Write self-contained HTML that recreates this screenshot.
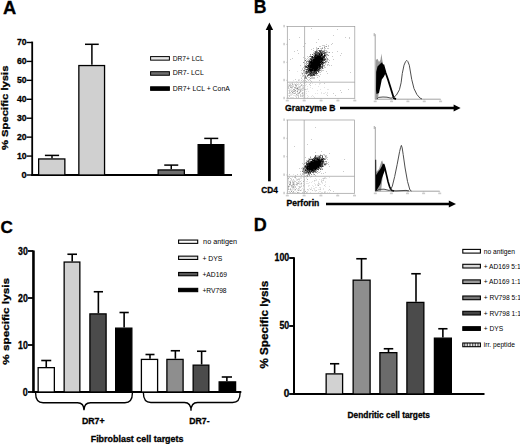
<!DOCTYPE html>
<html><head><meta charset="utf-8"><style>
html,body{margin:0;padding:0;background:#fff;}
svg{display:block;font-family:"Liberation Sans", sans-serif;}
</style></head><body>
<svg width="520" height="444" viewBox="0 0 520 444">
<rect width="520" height="444" fill="#fff"/>
<text x="3" y="13.8" font-size="18.3" font-weight="bold" text-anchor="start" fill="#000" stroke="#000" stroke-width="0.3">A</text>
<line x1="32.2" y1="41.6" x2="32.2" y2="175.9" stroke="#000" stroke-width="1.8"/>
<line x1="31.300000000000004" y1="175.0" x2="232" y2="175.0" stroke="#000" stroke-width="2.0"/>
<line x1="26.5" y1="175.0" x2="32.2" y2="175.0" stroke="#000" stroke-width="1.4"/>
<text x="26.5" y="178.0" font-size="9.2" font-weight="bold" text-anchor="end" fill="#000" stroke="#000" stroke-width="0.3">0</text>
<line x1="26.5" y1="156.07" x2="32.2" y2="156.07" stroke="#000" stroke-width="1.4"/>
<text x="26.5" y="159.07" font-size="9.2" font-weight="bold" text-anchor="end" fill="#000" textLength="9.6" lengthAdjust="spacingAndGlyphs" stroke="#000" stroke-width="0.3">10</text>
<line x1="26.5" y1="137.14" x2="32.2" y2="137.14" stroke="#000" stroke-width="1.4"/>
<text x="26.5" y="140.14" font-size="9.2" font-weight="bold" text-anchor="end" fill="#000" textLength="9.6" lengthAdjust="spacingAndGlyphs" stroke="#000" stroke-width="0.3">20</text>
<line x1="26.5" y1="118.21000000000001" x2="32.2" y2="118.21000000000001" stroke="#000" stroke-width="1.4"/>
<text x="26.5" y="121.21000000000001" font-size="9.2" font-weight="bold" text-anchor="end" fill="#000" textLength="9.6" lengthAdjust="spacingAndGlyphs" stroke="#000" stroke-width="0.3">30</text>
<line x1="26.5" y1="99.28" x2="32.2" y2="99.28" stroke="#000" stroke-width="1.4"/>
<text x="26.5" y="102.28" font-size="9.2" font-weight="bold" text-anchor="end" fill="#000" textLength="9.6" lengthAdjust="spacingAndGlyphs" stroke="#000" stroke-width="0.3">40</text>
<line x1="26.5" y1="80.35" x2="32.2" y2="80.35" stroke="#000" stroke-width="1.4"/>
<text x="26.5" y="83.35" font-size="9.2" font-weight="bold" text-anchor="end" fill="#000" textLength="9.6" lengthAdjust="spacingAndGlyphs" stroke="#000" stroke-width="0.3">50</text>
<line x1="26.5" y1="61.42" x2="32.2" y2="61.42" stroke="#000" stroke-width="1.4"/>
<text x="26.5" y="64.42" font-size="9.2" font-weight="bold" text-anchor="end" fill="#000" textLength="9.6" lengthAdjust="spacingAndGlyphs" stroke="#000" stroke-width="0.3">60</text>
<line x1="26.5" y1="42.49000000000001" x2="32.2" y2="42.49000000000001" stroke="#000" stroke-width="1.4"/>
<text x="26.5" y="45.49000000000001" font-size="9.2" font-weight="bold" text-anchor="end" fill="#000" textLength="9.6" lengthAdjust="spacingAndGlyphs" stroke="#000" stroke-width="0.3">70</text>
<text transform="translate(8.1,107.8) rotate(-90)" font-size="9.8" font-weight="bold" stroke="#000" stroke-width="0.3" text-anchor="middle" textLength="84.5" lengthAdjust="spacingAndGlyphs">% Specific lysis</text>
<rect x="38.65" y="158.95" width="26.20" height="16.05" fill="#d0d0d0" stroke="#000" stroke-width="1.3"/>
<line x1="52.0" y1="158.3" x2="52.0" y2="155.4" stroke="#000" stroke-width="1.5"/>
<line x1="44.9" y1="155.4" x2="59.1" y2="155.4" stroke="#000" stroke-width="1.5"/>
<rect x="78.85" y="65.55" width="25.70" height="109.45" fill="#d0d0d0" stroke="#000" stroke-width="1.3"/>
<line x1="91.9" y1="64.8" x2="91.9" y2="44.3" stroke="#000" stroke-width="1.5"/>
<line x1="85" y1="44.3" x2="98.75" y2="44.3" stroke="#000" stroke-width="1.5"/>
<rect x="158.15" y="169.95" width="26.20" height="5.05" fill="#6e6e6e" stroke="#000" stroke-width="1.3"/>
<line x1="171.25" y1="169.3" x2="171.25" y2="165.1" stroke="#000" stroke-width="1.5"/>
<line x1="164.25" y1="165.1" x2="178.25" y2="165.1" stroke="#000" stroke-width="1.5"/>
<rect x="198.15" y="144.65" width="25.70" height="30.35" fill="#000000" stroke="#000" stroke-width="1.3"/>
<line x1="211" y1="144" x2="211" y2="138.4" stroke="#000" stroke-width="1.5"/>
<line x1="204.25" y1="138.4" x2="218.25" y2="138.4" stroke="#000" stroke-width="1.5"/>
<rect x="150.6" y="56.6" width="18.8" height="3.55" fill="#e6e6e6" stroke="#000" stroke-width="1.0"/>
<text x="172.8" y="60.7" font-size="6.6" font-weight="normal" text-anchor="start" fill="#000" textLength="31" lengthAdjust="spacingAndGlyphs">DR7+ LCL</text>
<rect x="150.6" y="71.7" width="18.8" height="3.55" fill="#6e6e6e" stroke="#000" stroke-width="1.0"/>
<text x="172.8" y="75.39999999999999" font-size="6.6" font-weight="normal" text-anchor="start" fill="#000" textLength="31" lengthAdjust="spacingAndGlyphs">DR7- LCL</text>
<rect x="150.6" y="86.8" width="18.8" height="3.55" fill="#000000" stroke="#000" stroke-width="1.0"/>
<text x="172.8" y="90.69999999999999" font-size="6.6" font-weight="normal" text-anchor="start" fill="#000" textLength="57" lengthAdjust="spacingAndGlyphs">DR7+ LCL + ConA</text>
<text x="253.7" y="13.1" font-size="17.6" font-weight="bold" text-anchor="start" fill="#000" stroke="#000" stroke-width="0.3">B</text>
<line x1="269.4" y1="29" x2="269.4" y2="181.3" stroke="#000" stroke-width="2.7"/>
<polygon points="269.4,22.6 265.7,30.0 273.1,30.0" fill="#000"/>
<text x="261.2" y="193.4" font-size="8.4" font-weight="bold" text-anchor="start" fill="#000" textLength="16.6" lengthAdjust="spacingAndGlyphs" stroke="#000" stroke-width="0.3">CD4</text>
<text x="285.1" y="111.1" font-size="8.6" font-weight="bold" text-anchor="start" fill="#000" textLength="50.3" lengthAdjust="spacingAndGlyphs" stroke="#000" stroke-width="0.3">Granzyme B</text>
<line x1="340" y1="108.1" x2="455" y2="108.1" stroke="#000" stroke-width="2.5"/>
<polygon points="460.6,108.1 453.6,104.6 453.6,111.6" fill="#000"/>
<text x="286.5" y="205.8" font-size="8.6" font-weight="bold" text-anchor="start" fill="#000" textLength="32.8" lengthAdjust="spacingAndGlyphs" stroke="#000" stroke-width="0.3">Perforin</text>
<line x1="326" y1="204.1" x2="450" y2="204.1" stroke="#000" stroke-width="2.5"/>
<polygon points="456.0,204.1 448.8,200.6 448.8,207.6" fill="#000"/>
<path fill="rgb(229,229,229)" d="M297 71h1v1h-1zM301 72h1v1h-1zM301 73h1v1h-1zM303 73h1v1h-1zM304 73h1v1h-1zM307 74h1v1h-1zM300 75h1v1h-1zM302 75h1v1h-1zM303 76h1v1h-1zM306 76h1v1h-1zM301 77h1v1h-1zM298 79h1v1h-1zM299 79h1v1h-1zM302 79h1v1h-1zM293 80h1v1h-1zM299 80h1v1h-1zM296 81h1v1h-1zM302 81h1v1h-1zM303 81h1v1h-1zM292 82h1v1h-1zM297 82h1v1h-1zM301 82h1v1h-1zM305 82h1v1h-1zM289 83h1v1h-1zM290 83h1v1h-1zM291 83h1v1h-1zM294 83h1v1h-1zM296 83h1v1h-1zM298 83h1v1h-1zM303 83h1v1h-1zM304 83h1v1h-1zM312 83h1v1h-1zM319 83h1v1h-1zM320 83h1v1h-1zM288 84h1v1h-1zM289 84h1v1h-1zM293 84h1v1h-1zM294 84h1v1h-1zM296 84h1v1h-1zM298 84h1v1h-1zM299 84h1v1h-1zM302 84h1v1h-1zM306 84h1v1h-1zM315 84h1v1h-1zM319 84h1v1h-1zM288 85h1v1h-1zM292 85h1v1h-1zM293 85h1v1h-1zM298 85h1v1h-1zM300 85h1v1h-1zM302 85h1v1h-1zM305 85h1v1h-1zM289 86h1v1h-1zM291 86h1v1h-1zM295 86h1v1h-1zM298 86h1v1h-1zM302 86h1v1h-1zM303 86h1v1h-1zM307 86h1v1h-1zM318 86h1v1h-1zM296 87h1v1h-1zM300 87h1v1h-1zM302 87h1v1h-1zM310 87h1v1h-1zM324 87h1v1h-1zM289 88h1v1h-1zM291 88h1v1h-1zM292 88h1v1h-1zM294 88h1v1h-1zM298 88h1v1h-1zM299 88h1v1h-1zM300 88h1v1h-1zM301 88h1v1h-1zM307 88h1v1h-1zM312 88h1v1h-1zM289 89h1v1h-1zM290 89h1v1h-1zM291 89h1v1h-1zM296 89h1v1h-1zM302 89h1v1h-1zM303 89h1v1h-1zM306 89h1v1h-1zM307 89h1v1h-1zM320 89h1v1h-1zM327 89h1v1h-1zM328 89h1v1h-1zM288 90h1v1h-1zM290 90h1v1h-1zM291 90h1v1h-1zM293 90h1v1h-1zM298 90h1v1h-1zM299 90h1v1h-1zM301 90h1v1h-1zM303 90h1v1h-1zM317 90h1v1h-1zM292 91h1v1h-1zM295 91h1v1h-1zM296 91h1v1h-1zM299 91h1v1h-1zM301 91h1v1h-1zM304 91h1v1h-1zM306 91h1v1h-1zM308 91h1v1h-1zM293 92h1v1h-1zM297 92h1v1h-1zM298 92h1v1h-1zM300 92h1v1h-1zM303 92h1v1h-1zM304 92h1v1h-1zM321 92h1v1h-1zM325 92h1v1h-1zM327 92h1v1h-1zM288 93h1v1h-1zM290 93h1v1h-1zM291 93h1v1h-1zM292 93h1v1h-1zM301 93h1v1h-1zM303 93h1v1h-1zM304 93h1v1h-1zM306 93h1v1h-1zM315 93h1v1h-1zM317 93h1v1h-1zM321 93h1v1h-1zM323 93h1v1h-1zM324 93h1v1h-1zM327 93h1v1h-1zM290 94h1v1h-1zM291 94h1v1h-1zM292 94h1v1h-1zM297 94h1v1h-1zM298 94h1v1h-1zM302 94h1v1h-1zM303 94h1v1h-1zM304 94h1v1h-1zM326 94h1v1h-1zM288 95h1v1h-1zM290 95h1v1h-1zM291 95h1v1h-1zM293 95h1v1h-1zM294 95h1v1h-1zM295 95h1v1h-1zM296 95h1v1h-1zM301 95h1v1h-1zM307 95h1v1h-1zM312 95h1v1h-1zM295 96h1v1h-1zM296 96h1v1h-1zM301 96h1v1h-1zM303 96h1v1h-1zM308 96h1v1h-1zM311 96h1v1h-1zM313 96h1v1h-1zM288 97h1v1h-1zM290 97h1v1h-1zM291 97h1v1h-1zM292 97h1v1h-1zM293 97h1v1h-1zM303 97h1v1h-1zM307 97h1v1h-1zM314 97h1v1h-1z"/>
<path fill="rgb(204,204,204)" d="M311 28h1v1h-1zM337 29h1v1h-1zM333 35h1v1h-1zM299 37h1v1h-1zM345 37h1v1h-1zM349 37h1v1h-1zM349 38h1v1h-1zM289 39h1v1h-1zM318 39h1v1h-1zM316 42h1v1h-1zM305 43h1v1h-1zM332 43h1v1h-1zM326 44h1v1h-1zM331 44h1v1h-1zM322 45h1v1h-1zM323 45h1v1h-1zM324 45h1v1h-1zM328 45h1v1h-1zM303 46h1v1h-1zM319 46h1v1h-1zM320 46h1v1h-1zM324 46h1v1h-1zM325 46h1v1h-1zM328 46h1v1h-1zM316 47h1v1h-1zM322 47h1v1h-1zM313 48h1v1h-1zM316 48h1v1h-1zM317 48h1v1h-1zM320 48h1v1h-1zM321 48h1v1h-1zM324 48h1v1h-1zM325 48h1v1h-1zM327 48h1v1h-1zM328 48h1v1h-1zM311 49h1v1h-1zM316 49h1v1h-1zM317 49h1v1h-1zM321 49h1v1h-1zM324 49h1v1h-1zM297 50h1v1h-1zM313 50h1v1h-1zM317 50h1v1h-1zM322 50h1v1h-1zM323 50h1v1h-1zM325 50h1v1h-1zM326 50h1v1h-1zM294 51h1v1h-1zM314 51h1v1h-1zM326 51h1v1h-1zM327 51h1v1h-1zM337 51h1v1h-1zM313 52h1v1h-1zM314 52h1v1h-1zM327 52h1v1h-1zM328 52h1v1h-1zM332 52h1v1h-1zM298 53h1v1h-1zM313 53h1v1h-1zM326 53h1v1h-1zM341 53h1v1h-1zM313 54h1v1h-1zM310 55h1v1h-1zM326 55h1v1h-1zM327 55h1v1h-1zM340 55h1v1h-1zM307 56h1v1h-1zM313 56h1v1h-1zM326 56h1v1h-1zM332 56h1v1h-1zM303 57h1v1h-1zM308 57h1v1h-1zM292 58h1v1h-1zM305 58h1v1h-1zM307 58h1v1h-1zM309 58h1v1h-1zM326 58h1v1h-1zM290 59h1v1h-1zM306 59h1v1h-1zM308 59h1v1h-1zM309 59h1v1h-1zM326 59h1v1h-1zM328 59h1v1h-1zM333 59h1v1h-1zM307 60h1v1h-1zM308 60h1v1h-1zM325 60h1v1h-1zM326 60h1v1h-1zM327 60h1v1h-1zM329 60h1v1h-1zM327 61h1v1h-1zM326 62h1v1h-1zM305 63h1v1h-1zM306 63h1v1h-1zM324 63h1v1h-1zM325 63h1v1h-1zM323 64h1v1h-1zM325 64h1v1h-1zM327 64h1v1h-1zM328 64h1v1h-1zM300 65h1v1h-1zM306 65h1v1h-1zM321 65h1v1h-1zM327 65h1v1h-1zM329 65h1v1h-1zM331 65h1v1h-1zM323 66h1v1h-1zM324 66h1v1h-1zM303 67h1v1h-1zM324 67h1v1h-1zM325 67h1v1h-1zM302 68h1v1h-1zM305 68h1v1h-1zM321 68h1v1h-1zM323 68h1v1h-1zM302 69h1v1h-1zM320 69h1v1h-1zM321 69h1v1h-1zM289 70h1v1h-1zM301 70h1v1h-1zM321 70h1v1h-1zM322 70h1v1h-1zM323 70h1v1h-1zM303 71h1v1h-1zM319 71h1v1h-1zM321 71h1v1h-1zM326 71h1v1h-1zM303 72h1v1h-1zM319 72h1v1h-1zM320 72h1v1h-1zM350 72h1v1h-1zM308 73h1v1h-1zM327 73h1v1h-1zM302 74h1v1h-1zM306 74h1v1h-1zM315 74h1v1h-1zM320 74h1v1h-1zM315 75h1v1h-1zM316 75h1v1h-1zM317 75h1v1h-1zM318 75h1v1h-1zM302 76h1v1h-1zM311 76h1v1h-1zM312 76h1v1h-1zM319 76h1v1h-1zM304 77h1v1h-1zM308 77h1v1h-1zM309 77h1v1h-1zM311 77h1v1h-1zM312 77h1v1h-1zM313 77h1v1h-1zM314 77h1v1h-1zM317 77h1v1h-1zM301 78h1v1h-1zM311 78h1v1h-1zM312 78h1v1h-1zM313 78h1v1h-1zM314 78h1v1h-1zM295 79h1v1h-1zM307 79h1v1h-1zM309 79h1v1h-1zM298 80h1v1h-1zM301 80h1v1h-1zM303 80h1v1h-1zM305 80h1v1h-1zM308 80h1v1h-1zM310 80h1v1h-1zM319 80h1v1h-1zM306 81h1v1h-1zM311 81h1v1h-1zM292 83h1v1h-1zM300 83h1v1h-1zM310 83h1v1h-1zM324 83h1v1h-1zM290 84h1v1h-1zM297 84h1v1h-1zM301 84h1v1h-1zM309 84h1v1h-1zM290 85h1v1h-1zM291 85h1v1h-1zM303 85h1v1h-1zM310 85h1v1h-1zM288 86h1v1h-1zM290 86h1v1h-1zM292 86h1v1h-1zM293 86h1v1h-1zM296 86h1v1h-1zM299 86h1v1h-1zM300 86h1v1h-1zM288 87h1v1h-1zM292 87h1v1h-1zM297 87h1v1h-1zM298 87h1v1h-1zM299 87h1v1h-1zM303 87h1v1h-1zM288 88h1v1h-1zM295 88h1v1h-1zM302 88h1v1h-1zM303 88h1v1h-1zM297 89h1v1h-1zM299 89h1v1h-1zM300 89h1v1h-1zM301 89h1v1h-1zM304 89h1v1h-1zM305 89h1v1h-1zM348 89h1v1h-1zM289 90h1v1h-1zM292 90h1v1h-1zM294 90h1v1h-1zM297 90h1v1h-1zM302 90h1v1h-1zM340 90h1v1h-1zM289 91h1v1h-1zM289 92h1v1h-1zM290 92h1v1h-1zM295 92h1v1h-1zM302 92h1v1h-1zM341 92h1v1h-1zM289 93h1v1h-1zM293 93h1v1h-1zM295 93h1v1h-1zM297 93h1v1h-1zM299 93h1v1h-1zM333 93h1v1h-1zM300 94h1v1h-1zM289 95h1v1h-1zM297 95h1v1h-1zM298 95h1v1h-1zM300 95h1v1h-1zM302 95h1v1h-1zM303 95h1v1h-1zM327 95h1v1h-1zM335 95h1v1h-1zM289 96h1v1h-1zM298 96h1v1h-1zM300 96h1v1h-1zM302 96h1v1h-1zM296 97h1v1h-1zM298 97h1v1h-1z"/>
<path fill="rgb(178,178,178)" d="M303 75h1v1h-1zM305 75h1v1h-1zM306 77h1v1h-1zM305 78h1v1h-1zM292 84h1v1h-1zM295 84h1v1h-1zM289 85h1v1h-1zM295 85h1v1h-1zM296 85h1v1h-1zM301 85h1v1h-1zM290 87h1v1h-1zM291 87h1v1h-1zM294 87h1v1h-1zM295 87h1v1h-1zM296 88h1v1h-1zM293 89h1v1h-1zM294 89h1v1h-1zM298 89h1v1h-1zM300 90h1v1h-1zM291 91h1v1h-1zM293 91h1v1h-1zM294 91h1v1h-1zM300 91h1v1h-1zM294 93h1v1h-1zM298 93h1v1h-1zM302 93h1v1h-1zM296 94h1v1h-1z"/>
<path fill="rgb(153,153,153)" d="M326 46h1v1h-1zM324 47h1v1h-1zM322 48h1v1h-1zM316 50h1v1h-1zM318 50h1v1h-1zM324 50h1v1h-1zM317 51h1v1h-1zM321 51h1v1h-1zM324 51h1v1h-1zM319 52h1v1h-1zM323 52h1v1h-1zM326 52h1v1h-1zM329 52h1v1h-1zM325 53h1v1h-1zM310 54h1v1h-1zM314 54h1v1h-1zM325 54h1v1h-1zM326 54h1v1h-1zM327 54h1v1h-1zM313 55h1v1h-1zM323 55h1v1h-1zM328 55h1v1h-1zM309 56h1v1h-1zM325 56h1v1h-1zM326 57h1v1h-1zM325 58h1v1h-1zM327 58h1v1h-1zM327 59h1v1h-1zM310 60h1v1h-1zM306 61h1v1h-1zM307 61h1v1h-1zM323 61h1v1h-1zM326 61h1v1h-1zM303 62h1v1h-1zM306 62h1v1h-1zM308 62h1v1h-1zM325 62h1v1h-1zM328 62h1v1h-1zM307 63h1v1h-1zM308 63h1v1h-1zM306 64h1v1h-1zM305 65h1v1h-1zM323 65h1v1h-1zM324 65h1v1h-1zM304 66h1v1h-1zM307 66h1v1h-1zM304 68h1v1h-1zM305 69h1v1h-1zM303 70h1v1h-1zM306 70h1v1h-1zM307 70h1v1h-1zM320 70h1v1h-1zM305 71h1v1h-1zM317 71h1v1h-1zM305 72h1v1h-1zM318 72h1v1h-1zM302 73h1v1h-1zM305 73h1v1h-1zM307 73h1v1h-1zM316 74h1v1h-1zM309 75h1v1h-1zM307 76h1v1h-1zM310 76h1v1h-1zM304 78h1v1h-1zM306 78h1v1h-1zM310 78h1v1h-1zM295 90h1v1h-1zM297 91h1v1h-1zM292 92h1v1h-1zM299 92h1v1h-1z"/>
<path fill="rgb(127,127,127)" d="M307 68h1v1h-1zM305 76h1v1h-1zM305 77h1v1h-1zM297 88h1v1h-1z"/>
<path fill="rgb(102,102,102)" d="M318 48h1v1h-1zM320 50h1v1h-1zM321 50h1v1h-1zM315 51h1v1h-1zM316 51h1v1h-1zM322 51h1v1h-1zM323 51h1v1h-1zM317 52h1v1h-1zM322 52h1v1h-1zM324 52h1v1h-1zM325 52h1v1h-1zM314 53h1v1h-1zM316 53h1v1h-1zM322 53h1v1h-1zM312 54h1v1h-1zM314 55h1v1h-1zM310 56h1v1h-1zM311 56h1v1h-1zM311 57h1v1h-1zM310 58h1v1h-1zM311 58h1v1h-1zM324 58h1v1h-1zM305 60h1v1h-1zM309 60h1v1h-1zM308 61h1v1h-1zM325 61h1v1h-1zM308 64h1v1h-1zM321 64h1v1h-1zM322 65h1v1h-1zM321 66h1v1h-1zM305 67h1v1h-1zM321 67h1v1h-1zM322 68h1v1h-1zM304 70h1v1h-1zM319 70h1v1h-1zM307 71h1v1h-1zM312 71h1v1h-1zM306 72h1v1h-1zM308 72h1v1h-1zM309 73h1v1h-1zM317 73h1v1h-1zM312 74h1v1h-1zM307 75h1v1h-1zM308 75h1v1h-1zM313 75h1v1h-1z"/>
<path fill="rgb(76,76,76)" d="M319 50h1v1h-1zM319 51h1v1h-1zM315 52h1v1h-1zM316 52h1v1h-1zM318 52h1v1h-1zM321 52h1v1h-1zM315 53h1v1h-1zM317 53h1v1h-1zM318 53h1v1h-1zM320 53h1v1h-1zM323 53h1v1h-1zM324 53h1v1h-1zM317 54h1v1h-1zM318 54h1v1h-1zM320 54h1v1h-1zM324 54h1v1h-1zM322 55h1v1h-1zM325 55h1v1h-1zM321 56h1v1h-1zM312 58h1v1h-1zM313 58h1v1h-1zM323 58h1v1h-1zM310 59h1v1h-1zM312 59h1v1h-1zM325 59h1v1h-1zM323 60h1v1h-1zM324 60h1v1h-1zM322 61h1v1h-1zM323 62h1v1h-1zM324 62h1v1h-1zM320 63h1v1h-1zM322 63h1v1h-1zM323 63h1v1h-1zM307 65h1v1h-1zM305 66h1v1h-1zM322 66h1v1h-1zM306 67h1v1h-1zM308 67h1v1h-1zM320 67h1v1h-1zM322 67h1v1h-1zM318 68h1v1h-1zM320 68h1v1h-1zM306 69h1v1h-1zM308 69h1v1h-1zM319 69h1v1h-1zM318 70h1v1h-1zM309 71h1v1h-1zM313 71h1v1h-1zM316 71h1v1h-1zM307 72h1v1h-1zM309 72h1v1h-1zM310 72h1v1h-1zM312 72h1v1h-1zM315 72h1v1h-1zM306 73h1v1h-1zM311 73h1v1h-1zM312 73h1v1h-1zM313 73h1v1h-1zM314 73h1v1h-1zM316 73h1v1h-1zM308 74h1v1h-1zM309 74h1v1h-1zM310 74h1v1h-1zM311 74h1v1h-1zM314 74h1v1h-1zM310 75h1v1h-1zM312 75h1v1h-1zM314 75h1v1h-1z"/>
<path fill="rgb(50,50,50)" d="M320 51h1v1h-1zM320 52h1v1h-1zM316 54h1v1h-1zM322 56h1v1h-1zM324 56h1v1h-1zM313 57h1v1h-1zM324 57h1v1h-1zM323 59h1v1h-1zM324 59h1v1h-1zM309 61h1v1h-1zM309 62h1v1h-1zM321 62h1v1h-1zM322 64h1v1h-1zM306 66h1v1h-1zM307 67h1v1h-1zM308 68h1v1h-1zM307 69h1v1h-1zM317 69h1v1h-1zM306 71h1v1h-1zM308 71h1v1h-1zM315 71h1v1h-1zM318 71h1v1h-1zM313 72h1v1h-1zM314 72h1v1h-1zM315 73h1v1h-1zM311 75h1v1h-1z"/>
<path fill="rgb(25,25,25)" d="M319 53h1v1h-1zM321 53h1v1h-1zM315 54h1v1h-1zM322 54h1v1h-1zM316 55h1v1h-1zM317 55h1v1h-1zM318 55h1v1h-1zM319 55h1v1h-1zM320 55h1v1h-1zM312 56h1v1h-1zM314 56h1v1h-1zM315 56h1v1h-1zM316 56h1v1h-1zM323 56h1v1h-1zM312 57h1v1h-1zM314 57h1v1h-1zM321 57h1v1h-1zM322 57h1v1h-1zM323 57h1v1h-1zM314 58h1v1h-1zM311 59h1v1h-1zM311 60h1v1h-1zM312 60h1v1h-1zM320 60h1v1h-1zM321 60h1v1h-1zM322 60h1v1h-1zM310 61h1v1h-1zM312 61h1v1h-1zM320 61h1v1h-1zM309 63h1v1h-1zM310 63h1v1h-1zM321 63h1v1h-1zM309 64h1v1h-1zM310 64h1v1h-1zM308 65h1v1h-1zM309 65h1v1h-1zM320 65h1v1h-1zM309 66h1v1h-1zM318 66h1v1h-1zM320 66h1v1h-1zM309 67h1v1h-1zM318 67h1v1h-1zM319 67h1v1h-1zM309 68h1v1h-1zM310 68h1v1h-1zM311 68h1v1h-1zM319 68h1v1h-1zM313 69h1v1h-1zM318 69h1v1h-1zM308 70h1v1h-1zM309 70h1v1h-1zM313 70h1v1h-1zM316 70h1v1h-1zM317 70h1v1h-1zM310 71h1v1h-1zM311 71h1v1h-1zM314 71h1v1h-1zM311 72h1v1h-1zM316 72h1v1h-1zM310 73h1v1h-1zM313 74h1v1h-1z"/>
<path fill="rgb(0,0,0)" d="M319 54h1v1h-1zM321 54h1v1h-1zM315 55h1v1h-1zM321 55h1v1h-1zM324 55h1v1h-1zM317 56h1v1h-1zM318 56h1v1h-1zM319 56h1v1h-1zM320 56h1v1h-1zM315 57h1v1h-1zM316 57h1v1h-1zM317 57h1v1h-1zM318 57h1v1h-1zM319 57h1v1h-1zM320 57h1v1h-1zM315 58h1v1h-1zM316 58h1v1h-1zM317 58h1v1h-1zM318 58h1v1h-1zM319 58h1v1h-1zM320 58h1v1h-1zM321 58h1v1h-1zM322 58h1v1h-1zM313 59h1v1h-1zM314 59h1v1h-1zM315 59h1v1h-1zM316 59h1v1h-1zM317 59h1v1h-1zM318 59h1v1h-1zM319 59h1v1h-1zM320 59h1v1h-1zM321 59h1v1h-1zM322 59h1v1h-1zM313 60h1v1h-1zM314 60h1v1h-1zM315 60h1v1h-1zM316 60h1v1h-1zM317 60h1v1h-1zM318 60h1v1h-1zM319 60h1v1h-1zM311 61h1v1h-1zM313 61h1v1h-1zM314 61h1v1h-1zM315 61h1v1h-1zM316 61h1v1h-1zM317 61h1v1h-1zM318 61h1v1h-1zM319 61h1v1h-1zM321 61h1v1h-1zM310 62h1v1h-1zM311 62h1v1h-1zM312 62h1v1h-1zM313 62h1v1h-1zM314 62h1v1h-1zM315 62h1v1h-1zM316 62h1v1h-1zM317 62h1v1h-1zM318 62h1v1h-1zM319 62h1v1h-1zM320 62h1v1h-1zM322 62h1v1h-1zM311 63h1v1h-1zM312 63h1v1h-1zM313 63h1v1h-1zM314 63h1v1h-1zM315 63h1v1h-1zM316 63h1v1h-1zM317 63h1v1h-1zM318 63h1v1h-1zM319 63h1v1h-1zM311 64h1v1h-1zM312 64h1v1h-1zM313 64h1v1h-1zM314 64h1v1h-1zM315 64h1v1h-1zM316 64h1v1h-1zM317 64h1v1h-1zM318 64h1v1h-1zM319 64h1v1h-1zM320 64h1v1h-1zM310 65h1v1h-1zM311 65h1v1h-1zM312 65h1v1h-1zM313 65h1v1h-1zM314 65h1v1h-1zM315 65h1v1h-1zM316 65h1v1h-1zM317 65h1v1h-1zM318 65h1v1h-1zM319 65h1v1h-1zM308 66h1v1h-1zM310 66h1v1h-1zM311 66h1v1h-1zM312 66h1v1h-1zM313 66h1v1h-1zM314 66h1v1h-1zM315 66h1v1h-1zM316 66h1v1h-1zM317 66h1v1h-1zM319 66h1v1h-1zM310 67h1v1h-1zM311 67h1v1h-1zM312 67h1v1h-1zM313 67h1v1h-1zM314 67h1v1h-1zM315 67h1v1h-1zM316 67h1v1h-1zM317 67h1v1h-1zM312 68h1v1h-1zM313 68h1v1h-1zM314 68h1v1h-1zM315 68h1v1h-1zM316 68h1v1h-1zM317 68h1v1h-1zM309 69h1v1h-1zM310 69h1v1h-1zM311 69h1v1h-1zM312 69h1v1h-1zM314 69h1v1h-1zM315 69h1v1h-1zM316 69h1v1h-1zM310 70h1v1h-1zM311 70h1v1h-1zM312 70h1v1h-1zM314 70h1v1h-1zM315 70h1v1h-1z"/>
<rect x="287.3" y="26.4" width="67.5" height="71.9" fill="none" stroke="#9a9a9a" stroke-width="0.7"/>
<line x1="304.6" y1="26.4" x2="304.6" y2="98.3" stroke="#9a9a9a" stroke-width="0.7"/>
<line x1="287.3" y1="82.2" x2="354.8" y2="82.2" stroke="#9a9a9a" stroke-width="0.7"/>
<line x1="286.1" y1="98.3" x2="287.3" y2="98.3" stroke="#aaa" stroke-width="0.5"/>
<rect x="283.3" y="96.8" width="1.6" height="2.4" fill="#ccc"/>
<line x1="287.3" y1="98.3" x2="287.3" y2="99.5" stroke="#aaa" stroke-width="0.5"/>
<rect x="285.8" y="99.8" width="3" height="1.6" fill="#ccc"/>
<line x1="286.1" y1="80.32499999999999" x2="287.3" y2="80.32499999999999" stroke="#aaa" stroke-width="0.5"/>
<rect x="283.3" y="78.82499999999999" width="1.6" height="2.4" fill="#ccc"/>
<line x1="304.175" y1="98.3" x2="304.175" y2="99.5" stroke="#aaa" stroke-width="0.5"/>
<rect x="302.675" y="99.8" width="3" height="1.6" fill="#ccc"/>
<line x1="286.1" y1="62.349999999999994" x2="287.3" y2="62.349999999999994" stroke="#aaa" stroke-width="0.5"/>
<rect x="283.3" y="60.849999999999994" width="1.6" height="2.4" fill="#ccc"/>
<line x1="321.05" y1="98.3" x2="321.05" y2="99.5" stroke="#aaa" stroke-width="0.5"/>
<rect x="319.55" y="99.8" width="3" height="1.6" fill="#ccc"/>
<line x1="286.1" y1="44.37499999999999" x2="287.3" y2="44.37499999999999" stroke="#aaa" stroke-width="0.5"/>
<rect x="283.3" y="42.87499999999999" width="1.6" height="2.4" fill="#ccc"/>
<line x1="337.925" y1="98.3" x2="337.925" y2="99.5" stroke="#aaa" stroke-width="0.5"/>
<rect x="336.425" y="99.8" width="3" height="1.6" fill="#ccc"/>
<line x1="286.1" y1="26.39999999999999" x2="287.3" y2="26.39999999999999" stroke="#aaa" stroke-width="0.5"/>
<rect x="283.3" y="24.89999999999999" width="1.6" height="2.4" fill="#ccc"/>
<line x1="354.8" y1="98.3" x2="354.8" y2="99.5" stroke="#aaa" stroke-width="0.5"/>
<rect x="353.3" y="99.8" width="3" height="1.6" fill="#ccc"/>
<path fill="rgb(229,229,229)" d="M300 173h1v1h-1zM293 174h1v1h-1zM295 176h1v1h-1zM288 177h1v1h-1zM292 177h1v1h-1zM300 177h1v1h-1zM301 177h1v1h-1zM303 177h1v1h-1zM306 177h1v1h-1zM310 177h1v1h-1zM324 177h1v1h-1zM325 177h1v1h-1zM329 177h1v1h-1zM291 178h1v1h-1zM295 178h1v1h-1zM296 178h1v1h-1zM298 178h1v1h-1zM299 178h1v1h-1zM300 178h1v1h-1zM301 178h1v1h-1zM306 178h1v1h-1zM315 178h1v1h-1zM322 178h1v1h-1zM325 178h1v1h-1zM326 178h1v1h-1zM288 179h1v1h-1zM296 179h1v1h-1zM304 179h1v1h-1zM316 179h1v1h-1zM319 179h1v1h-1zM321 179h1v1h-1zM323 179h1v1h-1zM288 180h1v1h-1zM290 180h1v1h-1zM291 180h1v1h-1zM292 180h1v1h-1zM293 180h1v1h-1zM294 180h1v1h-1zM296 180h1v1h-1zM297 180h1v1h-1zM299 180h1v1h-1zM301 180h1v1h-1zM304 180h1v1h-1zM315 180h1v1h-1zM316 180h1v1h-1zM321 180h1v1h-1zM322 180h1v1h-1zM288 181h1v1h-1zM293 181h1v1h-1zM299 181h1v1h-1zM306 181h1v1h-1zM307 181h1v1h-1zM312 181h1v1h-1zM314 181h1v1h-1zM318 181h1v1h-1zM325 181h1v1h-1zM288 182h1v1h-1zM289 182h1v1h-1zM294 182h1v1h-1zM297 182h1v1h-1zM298 182h1v1h-1zM299 182h1v1h-1zM301 182h1v1h-1zM309 182h1v1h-1zM311 182h1v1h-1zM318 182h1v1h-1zM321 182h1v1h-1zM322 182h1v1h-1zM325 182h1v1h-1zM288 183h1v1h-1zM289 183h1v1h-1zM292 183h1v1h-1zM294 183h1v1h-1zM296 183h1v1h-1zM299 183h1v1h-1zM300 183h1v1h-1zM303 183h1v1h-1zM306 183h1v1h-1zM307 183h1v1h-1zM308 183h1v1h-1zM314 183h1v1h-1zM319 183h1v1h-1zM322 183h1v1h-1zM295 184h1v1h-1zM299 184h1v1h-1zM300 184h1v1h-1zM301 184h1v1h-1zM304 184h1v1h-1zM315 184h1v1h-1zM317 184h1v1h-1zM318 184h1v1h-1zM319 184h1v1h-1zM320 184h1v1h-1zM325 184h1v1h-1zM288 185h1v1h-1zM289 185h1v1h-1zM290 185h1v1h-1zM293 185h1v1h-1zM296 185h1v1h-1zM297 185h1v1h-1zM301 185h1v1h-1zM308 185h1v1h-1zM309 185h1v1h-1zM312 185h1v1h-1zM315 185h1v1h-1zM317 185h1v1h-1zM294 186h1v1h-1zM298 186h1v1h-1zM300 186h1v1h-1zM303 186h1v1h-1zM308 186h1v1h-1zM313 186h1v1h-1zM325 186h1v1h-1zM329 186h1v1h-1zM291 187h1v1h-1zM294 187h1v1h-1zM311 187h1v1h-1zM315 187h1v1h-1zM316 187h1v1h-1zM319 187h1v1h-1zM320 187h1v1h-1zM292 188h1v1h-1zM293 188h1v1h-1zM294 188h1v1h-1zM299 188h1v1h-1zM302 188h1v1h-1zM309 188h1v1h-1zM311 188h1v1h-1zM313 188h1v1h-1zM314 188h1v1h-1zM320 188h1v1h-1zM323 188h1v1h-1zM289 189h1v1h-1zM291 189h1v1h-1zM292 189h1v1h-1zM293 189h1v1h-1zM294 189h1v1h-1zM297 189h1v1h-1zM298 189h1v1h-1zM299 189h1v1h-1zM301 189h1v1h-1zM303 189h1v1h-1zM304 189h1v1h-1zM308 189h1v1h-1zM311 189h1v1h-1zM314 189h1v1h-1zM318 189h1v1h-1zM319 189h1v1h-1zM323 189h1v1h-1zM290 190h1v1h-1zM291 190h1v1h-1zM292 190h1v1h-1zM294 190h1v1h-1zM295 190h1v1h-1zM297 190h1v1h-1zM299 190h1v1h-1zM301 190h1v1h-1zM303 190h1v1h-1zM308 190h1v1h-1zM314 190h1v1h-1zM315 190h1v1h-1zM328 190h1v1h-1zM288 191h1v1h-1zM296 191h1v1h-1zM303 191h1v1h-1zM307 191h1v1h-1zM315 191h1v1h-1zM319 191h1v1h-1zM320 191h1v1h-1zM324 191h1v1h-1zM325 191h1v1h-1zM289 192h1v1h-1zM294 192h1v1h-1zM295 192h1v1h-1zM299 192h1v1h-1zM303 192h1v1h-1zM304 192h1v1h-1zM307 192h1v1h-1zM310 192h1v1h-1zM318 192h1v1h-1zM321 192h1v1h-1zM322 192h1v1h-1zM325 192h1v1h-1zM327 192h1v1h-1zM329 192h1v1h-1z"/>
<path fill="rgb(204,204,204)" d="M315 127h1v1h-1zM311 139h1v1h-1zM307 144h1v1h-1zM294 146h1v1h-1zM321 151h1v1h-1zM315 152h1v1h-1zM329 153h1v1h-1zM320 154h1v1h-1zM323 154h1v1h-1zM324 154h1v1h-1zM316 155h1v1h-1zM317 155h1v1h-1zM318 155h1v1h-1zM319 155h1v1h-1zM324 155h1v1h-1zM325 155h1v1h-1zM326 155h1v1h-1zM310 156h1v1h-1zM314 156h1v1h-1zM316 156h1v1h-1zM317 156h1v1h-1zM326 156h1v1h-1zM305 157h1v1h-1zM321 157h1v1h-1zM325 157h1v1h-1zM326 157h1v1h-1zM327 157h1v1h-1zM308 158h1v1h-1zM309 158h1v1h-1zM310 158h1v1h-1zM311 158h1v1h-1zM312 158h1v1h-1zM325 158h1v1h-1zM326 158h1v1h-1zM308 159h1v1h-1zM327 159h1v1h-1zM344 159h1v1h-1zM306 160h1v1h-1zM307 160h1v1h-1zM310 160h1v1h-1zM311 160h1v1h-1zM306 161h1v1h-1zM324 161h1v1h-1zM305 162h1v1h-1zM307 162h1v1h-1zM324 162h1v1h-1zM326 162h1v1h-1zM328 162h1v1h-1zM302 163h1v1h-1zM305 163h1v1h-1zM327 163h1v1h-1zM303 164h1v1h-1zM323 164h1v1h-1zM326 164h1v1h-1zM328 164h1v1h-1zM304 165h1v1h-1zM323 165h1v1h-1zM324 165h1v1h-1zM325 165h1v1h-1zM329 166h1v1h-1zM302 167h1v1h-1zM303 167h1v1h-1zM320 167h1v1h-1zM299 168h1v1h-1zM301 168h1v1h-1zM302 168h1v1h-1zM321 168h1v1h-1zM322 168h1v1h-1zM302 169h1v1h-1zM321 169h1v1h-1zM302 170h1v1h-1zM318 170h1v1h-1zM300 171h1v1h-1zM316 171h1v1h-1zM320 171h1v1h-1zM343 171h1v1h-1zM311 172h1v1h-1zM314 172h1v1h-1zM318 172h1v1h-1zM319 172h1v1h-1zM325 172h1v1h-1zM302 173h1v1h-1zM303 173h1v1h-1zM307 173h1v1h-1zM313 173h1v1h-1zM317 173h1v1h-1zM321 173h1v1h-1zM323 173h1v1h-1zM289 174h1v1h-1zM297 174h1v1h-1zM300 174h1v1h-1zM302 174h1v1h-1zM303 174h1v1h-1zM307 174h1v1h-1zM313 174h1v1h-1zM295 175h1v1h-1zM301 175h1v1h-1zM306 175h1v1h-1zM315 175h1v1h-1zM305 176h1v1h-1zM311 176h1v1h-1zM289 177h1v1h-1zM294 177h1v1h-1zM290 178h1v1h-1zM323 178h1v1h-1zM324 178h1v1h-1zM291 179h1v1h-1zM293 179h1v1h-1zM297 179h1v1h-1zM298 179h1v1h-1zM299 179h1v1h-1zM314 180h1v1h-1zM323 180h1v1h-1zM289 181h1v1h-1zM290 181h1v1h-1zM292 181h1v1h-1zM294 181h1v1h-1zM295 181h1v1h-1zM298 181h1v1h-1zM300 181h1v1h-1zM321 181h1v1h-1zM292 182h1v1h-1zM296 182h1v1h-1zM318 183h1v1h-1zM292 184h1v1h-1zM294 184h1v1h-1zM297 184h1v1h-1zM292 185h1v1h-1zM294 185h1v1h-1zM303 185h1v1h-1zM324 185h1v1h-1zM289 186h1v1h-1zM291 186h1v1h-1zM292 186h1v1h-1zM295 186h1v1h-1zM299 186h1v1h-1zM301 186h1v1h-1zM288 187h1v1h-1zM292 187h1v1h-1zM295 187h1v1h-1zM299 187h1v1h-1zM300 187h1v1h-1zM288 188h1v1h-1zM290 188h1v1h-1zM296 188h1v1h-1zM298 188h1v1h-1zM307 189h1v1h-1zM310 189h1v1h-1zM320 189h1v1h-1zM329 189h1v1h-1zM312 190h1v1h-1zM316 190h1v1h-1zM330 190h1v1h-1zM289 191h1v1h-1zM333 191h1v1h-1zM290 192h1v1h-1zM292 192h1v1h-1zM293 192h1v1h-1zM298 192h1v1h-1zM302 192h1v1h-1zM306 192h1v1h-1zM324 192h1v1h-1z"/>
<path fill="rgb(178,178,178)" d="M295 177h1v1h-1zM288 178h1v1h-1zM307 179h1v1h-1zM303 181h1v1h-1zM293 182h1v1h-1zM290 183h1v1h-1zM293 183h1v1h-1zM297 183h1v1h-1zM298 183h1v1h-1zM301 183h1v1h-1zM290 184h1v1h-1zM296 184h1v1h-1zM291 185h1v1h-1zM318 185h1v1h-1zM293 186h1v1h-1zM293 187h1v1h-1zM288 189h1v1h-1zM290 189h1v1h-1zM295 189h1v1h-1zM298 190h1v1h-1zM300 190h1v1h-1zM293 191h1v1h-1zM305 191h1v1h-1zM297 192h1v1h-1z"/>
<path fill="rgb(153,153,153)" d="M321 155h1v1h-1zM322 155h1v1h-1zM318 156h1v1h-1zM320 156h1v1h-1zM325 156h1v1h-1zM310 157h1v1h-1zM320 158h1v1h-1zM324 158h1v1h-1zM325 159h1v1h-1zM309 160h1v1h-1zM309 161h1v1h-1zM325 161h1v1h-1zM326 161h1v1h-1zM304 163h1v1h-1zM323 163h1v1h-1zM324 163h1v1h-1zM325 163h1v1h-1zM326 163h1v1h-1zM323 166h1v1h-1zM321 167h1v1h-1zM305 168h1v1h-1zM320 168h1v1h-1zM304 169h1v1h-1zM322 169h1v1h-1zM303 170h1v1h-1zM304 170h1v1h-1zM316 170h1v1h-1zM303 171h1v1h-1zM305 171h1v1h-1zM317 171h1v1h-1zM303 172h1v1h-1zM315 172h1v1h-1zM316 172h1v1h-1zM304 173h1v1h-1zM305 173h1v1h-1zM306 173h1v1h-1zM309 173h1v1h-1zM308 174h1v1h-1zM309 174h1v1h-1zM311 174h1v1h-1zM314 174h1v1h-1zM307 175h1v1h-1zM309 175h1v1h-1zM307 176h1v1h-1zM290 182h1v1h-1zM289 184h1v1h-1zM293 184h1v1h-1zM288 186h1v1h-1zM291 191h1v1h-1z"/>
<path fill="rgb(102,102,102)" d="M315 155h1v1h-1zM320 155h1v1h-1zM316 157h1v1h-1zM317 157h1v1h-1zM318 157h1v1h-1zM320 157h1v1h-1zM321 158h1v1h-1zM322 158h1v1h-1zM310 159h1v1h-1zM311 159h1v1h-1zM313 159h1v1h-1zM323 159h1v1h-1zM324 159h1v1h-1zM308 160h1v1h-1zM323 160h1v1h-1zM307 161h1v1h-1zM306 162h1v1h-1zM323 162h1v1h-1zM325 164h1v1h-1zM305 165h1v1h-1zM306 165h1v1h-1zM319 167h1v1h-1zM304 168h1v1h-1zM318 168h1v1h-1zM319 168h1v1h-1zM303 169h1v1h-1zM306 169h1v1h-1zM316 169h1v1h-1zM320 169h1v1h-1zM315 170h1v1h-1zM302 171h1v1h-1zM304 171h1v1h-1zM306 171h1v1h-1zM308 171h1v1h-1zM312 171h1v1h-1zM315 171h1v1h-1zM304 172h1v1h-1zM305 172h1v1h-1zM307 172h1v1h-1zM309 172h1v1h-1zM312 172h1v1h-1zM313 172h1v1h-1zM310 173h1v1h-1z"/>
<path fill="rgb(76,76,76)" d="M315 156h1v1h-1zM319 156h1v1h-1zM322 156h1v1h-1zM314 157h1v1h-1zM315 157h1v1h-1zM319 157h1v1h-1zM322 157h1v1h-1zM313 158h1v1h-1zM314 158h1v1h-1zM318 158h1v1h-1zM309 159h1v1h-1zM315 159h1v1h-1zM320 159h1v1h-1zM322 160h1v1h-1zM308 161h1v1h-1zM310 161h1v1h-1zM308 162h1v1h-1zM309 162h1v1h-1zM321 162h1v1h-1zM306 163h1v1h-1zM322 164h1v1h-1zM324 164h1v1h-1zM321 165h1v1h-1zM322 165h1v1h-1zM304 166h1v1h-1zM321 166h1v1h-1zM304 167h1v1h-1zM305 167h1v1h-1zM303 168h1v1h-1zM317 168h1v1h-1zM305 169h1v1h-1zM317 169h1v1h-1zM318 169h1v1h-1zM306 170h1v1h-1zM307 170h1v1h-1zM310 170h1v1h-1zM310 171h1v1h-1zM314 171h1v1h-1zM306 172h1v1h-1zM308 173h1v1h-1z"/>
<path fill="rgb(50,50,50)" d="M316 158h1v1h-1zM319 158h1v1h-1zM323 158h1v1h-1zM316 159h1v1h-1zM323 161h1v1h-1zM322 162h1v1h-1zM307 163h1v1h-1zM321 163h1v1h-1zM322 163h1v1h-1zM306 164h1v1h-1zM321 164h1v1h-1zM306 166h1v1h-1zM319 166h1v1h-1zM322 166h1v1h-1zM308 170h1v1h-1zM314 170h1v1h-1zM307 171h1v1h-1zM313 171h1v1h-1zM310 172h1v1h-1z"/>
<path fill="rgb(25,25,25)" d="M315 158h1v1h-1zM317 158h1v1h-1zM312 159h1v1h-1zM314 159h1v1h-1zM319 159h1v1h-1zM321 159h1v1h-1zM312 160h1v1h-1zM315 160h1v1h-1zM316 160h1v1h-1zM317 160h1v1h-1zM320 160h1v1h-1zM321 160h1v1h-1zM312 161h1v1h-1zM313 161h1v1h-1zM321 161h1v1h-1zM322 161h1v1h-1zM310 162h1v1h-1zM308 163h1v1h-1zM320 163h1v1h-1zM307 164h1v1h-1zM308 164h1v1h-1zM320 164h1v1h-1zM307 165h1v1h-1zM308 165h1v1h-1zM320 165h1v1h-1zM305 166h1v1h-1zM320 166h1v1h-1zM306 167h1v1h-1zM308 167h1v1h-1zM317 167h1v1h-1zM306 168h1v1h-1zM308 169h1v1h-1zM313 169h1v1h-1zM314 169h1v1h-1zM305 170h1v1h-1zM309 170h1v1h-1zM311 170h1v1h-1zM313 170h1v1h-1zM309 171h1v1h-1zM311 171h1v1h-1zM308 172h1v1h-1z"/>
<path fill="rgb(0,0,0)" d="M317 159h1v1h-1zM318 159h1v1h-1zM322 159h1v1h-1zM313 160h1v1h-1zM314 160h1v1h-1zM318 160h1v1h-1zM319 160h1v1h-1zM311 161h1v1h-1zM314 161h1v1h-1zM315 161h1v1h-1zM316 161h1v1h-1zM317 161h1v1h-1zM318 161h1v1h-1zM319 161h1v1h-1zM320 161h1v1h-1zM311 162h1v1h-1zM312 162h1v1h-1zM313 162h1v1h-1zM314 162h1v1h-1zM315 162h1v1h-1zM316 162h1v1h-1zM317 162h1v1h-1zM318 162h1v1h-1zM319 162h1v1h-1zM320 162h1v1h-1zM309 163h1v1h-1zM310 163h1v1h-1zM311 163h1v1h-1zM312 163h1v1h-1zM313 163h1v1h-1zM314 163h1v1h-1zM315 163h1v1h-1zM316 163h1v1h-1zM317 163h1v1h-1zM318 163h1v1h-1zM319 163h1v1h-1zM309 164h1v1h-1zM310 164h1v1h-1zM311 164h1v1h-1zM312 164h1v1h-1zM313 164h1v1h-1zM314 164h1v1h-1zM315 164h1v1h-1zM316 164h1v1h-1zM317 164h1v1h-1zM318 164h1v1h-1zM319 164h1v1h-1zM309 165h1v1h-1zM310 165h1v1h-1zM311 165h1v1h-1zM312 165h1v1h-1zM313 165h1v1h-1zM314 165h1v1h-1zM315 165h1v1h-1zM316 165h1v1h-1zM317 165h1v1h-1zM318 165h1v1h-1zM319 165h1v1h-1zM307 166h1v1h-1zM308 166h1v1h-1zM309 166h1v1h-1zM310 166h1v1h-1zM311 166h1v1h-1zM312 166h1v1h-1zM313 166h1v1h-1zM314 166h1v1h-1zM315 166h1v1h-1zM316 166h1v1h-1zM317 166h1v1h-1zM318 166h1v1h-1zM307 167h1v1h-1zM309 167h1v1h-1zM310 167h1v1h-1zM311 167h1v1h-1zM312 167h1v1h-1zM313 167h1v1h-1zM314 167h1v1h-1zM315 167h1v1h-1zM316 167h1v1h-1zM318 167h1v1h-1zM307 168h1v1h-1zM308 168h1v1h-1zM309 168h1v1h-1zM310 168h1v1h-1zM311 168h1v1h-1zM312 168h1v1h-1zM313 168h1v1h-1zM314 168h1v1h-1zM315 168h1v1h-1zM316 168h1v1h-1zM307 169h1v1h-1zM309 169h1v1h-1zM310 169h1v1h-1zM311 169h1v1h-1zM312 169h1v1h-1zM315 169h1v1h-1zM312 170h1v1h-1z"/>
<rect x="287.3" y="120.0" width="67.19999999999999" height="73.30000000000001" fill="none" stroke="#9a9a9a" stroke-width="0.7"/>
<line x1="304.2" y1="120.0" x2="304.2" y2="193.3" stroke="#9a9a9a" stroke-width="0.7"/>
<line x1="287.3" y1="176.3" x2="354.5" y2="176.3" stroke="#9a9a9a" stroke-width="0.7"/>
<line x1="286.1" y1="193.3" x2="287.3" y2="193.3" stroke="#aaa" stroke-width="0.5"/>
<rect x="283.3" y="191.8" width="1.6" height="2.4" fill="#ccc"/>
<line x1="287.3" y1="193.3" x2="287.3" y2="194.5" stroke="#aaa" stroke-width="0.5"/>
<rect x="285.8" y="194.8" width="3" height="1.6" fill="#ccc"/>
<line x1="286.1" y1="174.97500000000002" x2="287.3" y2="174.97500000000002" stroke="#aaa" stroke-width="0.5"/>
<rect x="283.3" y="173.47500000000002" width="1.6" height="2.4" fill="#ccc"/>
<line x1="304.1" y1="193.3" x2="304.1" y2="194.5" stroke="#aaa" stroke-width="0.5"/>
<rect x="302.6" y="194.8" width="3" height="1.6" fill="#ccc"/>
<line x1="286.1" y1="156.65" x2="287.3" y2="156.65" stroke="#aaa" stroke-width="0.5"/>
<rect x="283.3" y="155.15" width="1.6" height="2.4" fill="#ccc"/>
<line x1="320.9" y1="193.3" x2="320.9" y2="194.5" stroke="#aaa" stroke-width="0.5"/>
<rect x="319.4" y="194.8" width="3" height="1.6" fill="#ccc"/>
<line x1="286.1" y1="138.325" x2="287.3" y2="138.325" stroke="#aaa" stroke-width="0.5"/>
<rect x="283.3" y="136.825" width="1.6" height="2.4" fill="#ccc"/>
<line x1="337.7" y1="193.3" x2="337.7" y2="194.5" stroke="#aaa" stroke-width="0.5"/>
<rect x="336.2" y="194.8" width="3" height="1.6" fill="#ccc"/>
<line x1="286.1" y1="120.0" x2="287.3" y2="120.0" stroke="#aaa" stroke-width="0.5"/>
<rect x="283.3" y="118.5" width="1.6" height="2.4" fill="#ccc"/>
<line x1="354.5" y1="193.3" x2="354.5" y2="194.5" stroke="#aaa" stroke-width="0.5"/>
<rect x="353.0" y="194.8" width="3" height="1.6" fill="#ccc"/>
<line x1="375.2" y1="34.2" x2="375.2" y2="99.2" stroke="#8a8a8a" stroke-width="0.8"/>
<line x1="375.2" y1="99.2" x2="440.6" y2="99.2" stroke="#8a8a8a" stroke-width="0.8"/>
<rect x="373.59999999999997" y="33.2" width="1.4" height="3" fill="#bbb"/>
<line x1="375.2" y1="99.2" x2="375.2" y2="100.4" stroke="#aaa" stroke-width="0.5"/>
<rect x="373.7" y="100.60000000000001" width="3" height="1.6" fill="#ccc"/>
<line x1="391.55" y1="99.2" x2="391.55" y2="100.4" stroke="#aaa" stroke-width="0.5"/>
<rect x="390.05" y="100.60000000000001" width="3" height="1.6" fill="#ccc"/>
<line x1="407.9" y1="99.2" x2="407.9" y2="100.4" stroke="#aaa" stroke-width="0.5"/>
<rect x="406.4" y="100.60000000000001" width="3" height="1.6" fill="#ccc"/>
<line x1="424.25" y1="99.2" x2="424.25" y2="100.4" stroke="#aaa" stroke-width="0.5"/>
<rect x="422.75" y="100.60000000000001" width="3" height="1.6" fill="#ccc"/>
<line x1="440.6" y1="99.2" x2="440.6" y2="100.4" stroke="#aaa" stroke-width="0.5"/>
<rect x="439.1" y="100.60000000000001" width="3" height="1.6" fill="#ccc"/>
<path fill="#9a9a9a" d="M375.5,99.2 L375.8,60 L377.5,58.8 L379,62 L380.5,60 L381.4,53.6 L382.3,60 L383,64 L381,70 L378,99.2 Z"/>
<path fill="#000" d="M376,90 L376.2,72 L377.5,66.5 L379,65 L380.5,63.5 L382,62.3 L383.5,65.5 L385.6,73 L384,76.5 L381.8,79.5 L380.5,86 L379,93 L376.5,94 Z"/>
<path fill="none" stroke="#000" stroke-width="1.8" d="M383.2,64.5 L385.5,72.5 L388.0,79.5 L390.2,86.5 L392.2,93.0 L393.8,98.2 L396.0,99.1"/>
<path fill="none" stroke="#444" stroke-width="0.95" stroke-linejoin="round" d="M377.0,99.0 L378.5,97.4 L383.0,97.0 L387.0,97.2 L391.0,98.2 L393.5,97.4 L396.4,95.1 L399.4,89.8 L401.1,82.8 L402.3,73.4 L404.0,65.2 L405.6,61.5 L406.8,60.4 L407.8,61.5 L409.3,65.2 L411.7,79.3 L414.0,88.6 L416.9,94.5 L419.9,98.0 L422.0,99.0"/>
<line x1="375.3" y1="127.0" x2="375.3" y2="191.2" stroke="#8a8a8a" stroke-width="0.8"/>
<line x1="375.3" y1="191.2" x2="439.7" y2="191.2" stroke="#8a8a8a" stroke-width="0.8"/>
<rect x="373.7" y="126.0" width="1.4" height="3" fill="#bbb"/>
<line x1="375.3" y1="191.2" x2="375.3" y2="192.39999999999998" stroke="#aaa" stroke-width="0.5"/>
<rect x="373.8" y="192.6" width="3" height="1.6" fill="#ccc"/>
<line x1="391.4" y1="191.2" x2="391.4" y2="192.39999999999998" stroke="#aaa" stroke-width="0.5"/>
<rect x="389.9" y="192.6" width="3" height="1.6" fill="#ccc"/>
<line x1="407.5" y1="191.2" x2="407.5" y2="192.39999999999998" stroke="#aaa" stroke-width="0.5"/>
<rect x="406.0" y="192.6" width="3" height="1.6" fill="#ccc"/>
<line x1="423.6" y1="191.2" x2="423.6" y2="192.39999999999998" stroke="#aaa" stroke-width="0.5"/>
<rect x="422.1" y="192.6" width="3" height="1.6" fill="#ccc"/>
<line x1="439.7" y1="191.2" x2="439.7" y2="192.39999999999998" stroke="#aaa" stroke-width="0.5"/>
<rect x="438.2" y="192.6" width="3" height="1.6" fill="#ccc"/>
<path fill="#9a9a9a" d="M375.8,191.2 L376.2,172 L379,169 L381.3,161.5 L382.2,160.4 L383,163 L383.8,167 L381,191.2 Z"/>
<path fill="#000" d="M375.3,191.2 L375.3,159.8 L376.2,159.8 L376.3,175 L378,172 L380,169.5 L382,166 L383,163.3 L384.3,165.5 L385,170 L383.5,174 L382,178 L380.5,184 L378,188 L376.3,191.2 Z"/>
<path fill="none" stroke="#000" stroke-width="1.6" d="M383.6,164.0 L385.0,168.5 L386.5,175.0 L388.0,181.5 L389.5,186.5 L391.2,190.2 L394.0,191.0"/>
<path fill="none" stroke="#444" stroke-width="0.95" stroke-linejoin="round" d="M377.0,190.8 L379.0,189.4 L384.0,189.2 L389.0,190.4 L390.5,189.9 L392.3,186.2 L394.7,176.5 L397.2,164.3 L399.6,151.6 L400.6,147.5 L401.4,145.4 L402.2,148.0 L403.2,154.6 L405.1,168.0 L407.5,181.4 L409.9,189.9 L411.5,191.0"/>
<path fill="none" stroke="#222" stroke-width="0.8" d="M391.0,190.6 L396.0,190.9 L402.0,190.6 L406.0,190.4 L409.0,190.9"/>
<text x="0.6" y="232.6" font-size="17.2" font-weight="bold" text-anchor="start" fill="#000" stroke="#000" stroke-width="0.3">C</text>
<line x1="33.45" y1="250.5" x2="33.45" y2="392.9" stroke="#000" stroke-width="2.6"/>
<line x1="32.45" y1="392.0" x2="241.3" y2="392.0" stroke="#000" stroke-width="2.0"/>
<line x1="28" y1="392.0" x2="33.45" y2="392.0" stroke="#000" stroke-width="1.8"/>
<text x="27.8" y="395.9" font-size="10.2" font-weight="bold" text-anchor="end" fill="#000" textLength="5.0" lengthAdjust="spacingAndGlyphs" stroke="#000" stroke-width="0.3">0</text>
<line x1="28" y1="345.0" x2="33.45" y2="345.0" stroke="#000" stroke-width="1.8"/>
<text x="27.8" y="348.9" font-size="10.2" font-weight="bold" text-anchor="end" fill="#000" textLength="9.8" lengthAdjust="spacingAndGlyphs" stroke="#000" stroke-width="0.3">10</text>
<line x1="28" y1="298.0" x2="33.45" y2="298.0" stroke="#000" stroke-width="1.8"/>
<text x="27.8" y="301.9" font-size="10.2" font-weight="bold" text-anchor="end" fill="#000" textLength="9.8" lengthAdjust="spacingAndGlyphs" stroke="#000" stroke-width="0.3">20</text>
<line x1="28" y1="251.0" x2="33.45" y2="251.0" stroke="#000" stroke-width="1.8"/>
<text x="27.8" y="254.9" font-size="10.2" font-weight="bold" text-anchor="end" fill="#000" textLength="9.8" lengthAdjust="spacingAndGlyphs" stroke="#000" stroke-width="0.3">30</text>
<text transform="translate(8.9,321.4) rotate(-90)" font-size="9.8" font-weight="bold" stroke="#000" stroke-width="0.3" text-anchor="middle" textLength="86.7" lengthAdjust="spacingAndGlyphs">% specific lysis</text>
<rect x="38.15" y="367.65" width="16.20" height="24.35" fill="#ffffff" stroke="#000" stroke-width="1.3"/>
<line x1="46.25" y1="367" x2="46.25" y2="360.5" stroke="#000" stroke-width="1.6"/>
<line x1="41.25" y1="360.5" x2="51.25" y2="360.5" stroke="#000" stroke-width="1.6"/>
<rect x="64.15" y="262.05" width="15.70" height="129.95" fill="#d0d0d0" stroke="#000" stroke-width="1.3"/>
<line x1="72.2" y1="261.4" x2="72.2" y2="254.25" stroke="#000" stroke-width="1.6"/>
<line x1="67.4" y1="254.25" x2="77.0" y2="254.25" stroke="#000" stroke-width="1.6"/>
<rect x="89.90" y="313.90" width="16.20" height="78.10" fill="#4b4b4b" stroke="#000" stroke-width="1.3"/>
<line x1="98.375" y1="313.25" x2="98.375" y2="291.75" stroke="#000" stroke-width="1.6"/>
<line x1="93.75" y1="291.75" x2="103" y2="291.75" stroke="#000" stroke-width="1.6"/>
<rect x="115.65" y="328.15" width="16.20" height="63.85" fill="#000000" stroke="#000" stroke-width="1.3"/>
<line x1="124.125" y1="327.5" x2="124.125" y2="312.5" stroke="#000" stroke-width="1.6"/>
<line x1="119.5" y1="312.5" x2="128.75" y2="312.5" stroke="#000" stroke-width="1.6"/>
<rect x="141.40" y="359.40" width="16.20" height="32.60" fill="#ffffff" stroke="#000" stroke-width="1.3"/>
<line x1="150.0" y1="358.75" x2="150.0" y2="354.5" stroke="#000" stroke-width="1.6"/>
<line x1="145.5" y1="354.5" x2="154.5" y2="354.5" stroke="#000" stroke-width="1.6"/>
<rect x="166.90" y="359.40" width="16.20" height="32.60" fill="#8e8e8e" stroke="#000" stroke-width="1.3"/>
<line x1="175.375" y1="358.75" x2="175.375" y2="350.75" stroke="#000" stroke-width="1.6"/>
<line x1="170.75" y1="350.75" x2="180" y2="350.75" stroke="#000" stroke-width="1.6"/>
<rect x="193.15" y="365.15" width="15.70" height="26.85" fill="#4b4b4b" stroke="#000" stroke-width="1.3"/>
<line x1="201.625" y1="364.5" x2="201.625" y2="351.25" stroke="#000" stroke-width="1.6"/>
<line x1="197" y1="351.25" x2="206.25" y2="351.25" stroke="#000" stroke-width="1.6"/>
<rect x="219.15" y="381.90" width="16.45" height="10.10" fill="#000000" stroke="#000" stroke-width="1.3"/>
<line x1="226.875" y1="381.25" x2="226.875" y2="377" stroke="#000" stroke-width="1.6"/>
<line x1="221.75" y1="377" x2="232" y2="377" stroke="#000" stroke-width="1.6"/>
<path d="M35.6,393.0 Q35.6,402.7 43.1,402.7 L77.5,402.7 Q84.0,402.7 84.0,410.3 Q84.0,402.7 90.5,402.7 L124.9,402.7 Q132.4,402.7 132.4,393.0" fill="none" stroke="#000" stroke-width="1.35"/>
<path d="M143.4,393.0 Q143.4,402.5 150.9,402.5 L184.5,402.5 Q191.0,402.5 191.0,410.8 Q191.0,402.5 197.5,402.5 L232.6,402.5 Q240.1,402.5 240.1,393.0" fill="none" stroke="#000" stroke-width="1.35"/>
<text x="81.9" y="423.9" font-size="8.8" font-weight="bold" text-anchor="start" fill="#000" textLength="22.7" lengthAdjust="spacingAndGlyphs" stroke="#000" stroke-width="0.3">DR7+</text>
<text x="189.3" y="423.9" font-size="8.8" font-weight="bold" text-anchor="start" fill="#000" textLength="20.3" lengthAdjust="spacingAndGlyphs" stroke="#000" stroke-width="0.3">DR7-</text>
<text x="90.7" y="441.9" font-size="8.9" font-weight="bold" text-anchor="start" fill="#000" textLength="92.8" lengthAdjust="spacingAndGlyphs" stroke="#000" stroke-width="0.3">Fibroblast cell targets</text>
<rect x="178.6" y="240.05" width="19.1" height="3.3" fill="#ffffff" stroke="#000" stroke-width="1.1"/>
<rect x="178.6" y="256.15" width="19.1" height="3.3" fill="#e0e0e0" stroke="#000" stroke-width="1.1"/>
<rect x="178.6" y="272.45" width="19.1" height="3.3" fill="#555555" stroke="#000" stroke-width="1.1"/>
<rect x="178.6" y="288.35" width="19.1" height="3.3" fill="#000000" stroke="#000" stroke-width="1.1"/>
<text x="203.1" y="244.2" font-size="7.0" font-weight="normal" text-anchor="start" fill="#000" textLength="34" lengthAdjust="spacingAndGlyphs">no antigen</text>
<text x="202.4" y="260.8" font-size="7.0" font-weight="normal" text-anchor="start" fill="#000" textLength="20" lengthAdjust="spacingAndGlyphs">+ DYS</text>
<text x="202.4" y="276.6" font-size="7.0" font-weight="normal" text-anchor="start" fill="#000" textLength="24.5" lengthAdjust="spacingAndGlyphs">+AD169</text>
<text x="202.4" y="292.5" font-size="7.0" font-weight="normal" text-anchor="start" fill="#000" textLength="24.2" lengthAdjust="spacingAndGlyphs">+RV798</text>
<text x="253.7" y="231.3" font-size="18" font-weight="bold" text-anchor="start" fill="#000" stroke="#000" stroke-width="0.3">D</text>
<line x1="294.0" y1="257.2" x2="294.0" y2="394.9" stroke="#000" stroke-width="2.0"/>
<line x1="293.0" y1="394.0" x2="484.5" y2="394.0" stroke="#000" stroke-width="2.0"/>
<line x1="289.2" y1="394.0" x2="294.0" y2="394.0" stroke="#000" stroke-width="1.9"/>
<text x="289.2" y="397.3" font-size="10.0" font-weight="bold" text-anchor="end" fill="#000" stroke="#000" stroke-width="0.3">0</text>
<line x1="289.2" y1="326.0" x2="294.0" y2="326.0" stroke="#000" stroke-width="1.9"/>
<text x="289.2" y="329.3" font-size="10.0" font-weight="bold" text-anchor="end" fill="#000" textLength="9.8" lengthAdjust="spacingAndGlyphs" stroke="#000" stroke-width="0.3">50</text>
<line x1="289.2" y1="258.0" x2="294.0" y2="258.0" stroke="#000" stroke-width="1.9"/>
<text x="289.2" y="261.3" font-size="10.0" font-weight="bold" text-anchor="end" fill="#000" textLength="14.7" lengthAdjust="spacingAndGlyphs" stroke="#000" stroke-width="0.3">100</text>
<text transform="translate(267.6,324.7) rotate(-90)" font-size="10" font-weight="bold" stroke="#000" stroke-width="0.3" text-anchor="middle" textLength="87.8" lengthAdjust="spacingAndGlyphs">% Specific lysis</text>
<rect x="326.15" y="373.90" width="16.45" height="20.10" fill="#d2d2d2" stroke="#000" stroke-width="1.3"/>
<line x1="334.625" y1="373.25" x2="334.625" y2="363.75" stroke="#000" stroke-width="1.6"/>
<line x1="330" y1="363.75" x2="339.25" y2="363.75" stroke="#000" stroke-width="1.6"/>
<rect x="353.15" y="280.15" width="16.95" height="113.85" fill="#8e8e8e" stroke="#000" stroke-width="1.3"/>
<line x1="361.5" y1="279.5" x2="361.5" y2="258.75" stroke="#000" stroke-width="1.6"/>
<line x1="356.25" y1="258.75" x2="366.75" y2="258.75" stroke="#000" stroke-width="1.6"/>
<rect x="379.90" y="352.65" width="16.95" height="41.35" fill="#6b6b6b" stroke="#000" stroke-width="1.3"/>
<line x1="388.5" y1="352" x2="388.5" y2="348.75" stroke="#000" stroke-width="1.6"/>
<line x1="383.75" y1="348.75" x2="393.25" y2="348.75" stroke="#000" stroke-width="1.6"/>
<rect x="406.90" y="302.40" width="16.95" height="91.60" fill="#4b4b4b" stroke="#000" stroke-width="1.3"/>
<line x1="416.0" y1="301.75" x2="416.0" y2="273.75" stroke="#000" stroke-width="1.6"/>
<line x1="411.25" y1="273.75" x2="420.75" y2="273.75" stroke="#000" stroke-width="1.6"/>
<rect x="434.40" y="338.15" width="16.95" height="55.85" fill="#000000" stroke="#000" stroke-width="1.3"/>
<line x1="442.875" y1="337.5" x2="442.875" y2="328.75" stroke="#000" stroke-width="1.6"/>
<line x1="438.25" y1="328.75" x2="447.5" y2="328.75" stroke="#000" stroke-width="1.6"/>
<text x="347.6" y="418" font-size="8.8" font-weight="bold" text-anchor="start" fill="#000" textLength="82.4" lengthAdjust="spacingAndGlyphs" stroke="#000" stroke-width="0.3">Dendritic cell targets</text>
<defs><pattern id="hp" width="1.6" height="4" patternUnits="userSpaceOnUse"><rect width="1.6" height="4" fill="#fff"/><rect width="0.7" height="4" fill="#333"/></pattern></defs>
<rect x="462.8" y="249.4" width="17.6" height="3.7" fill="#ffffff" stroke="#000" stroke-width="1.1"/>
<text x="483.7" y="253.7" font-size="7.6" font-weight="normal" text-anchor="start" fill="#000" textLength="31.18" lengthAdjust="spacingAndGlyphs">no antigen</text>
<rect x="462.8" y="264.3" width="17.6" height="3.7" fill="#d8d8d8" stroke="#000" stroke-width="1.1"/>
<text x="483.7" y="268.6" font-size="7.6" font-weight="normal" text-anchor="start" fill="#000" textLength="36.93" lengthAdjust="spacingAndGlyphs">+ AD169 5:1</text>
<rect x="462.8" y="279.90000000000003" width="17.6" height="3.7" fill="#9a9a9a" stroke="#000" stroke-width="1.1"/>
<text x="483.7" y="284.20000000000005" font-size="7.6" font-weight="normal" text-anchor="start" fill="#000" textLength="36.93" lengthAdjust="spacingAndGlyphs">+ AD169 1:1</text>
<rect x="462.8" y="296.0" width="17.6" height="3.7" fill="#777777" stroke="#000" stroke-width="1.1"/>
<text x="483.7" y="300.3" font-size="7.6" font-weight="normal" text-anchor="start" fill="#000" textLength="37.18" lengthAdjust="spacingAndGlyphs">+ RV798 5:1</text>
<rect x="462.8" y="311.3" width="17.6" height="3.7" fill="#444444" stroke="#000" stroke-width="1.1"/>
<text x="483.7" y="315.6" font-size="7.6" font-weight="normal" text-anchor="start" fill="#000" textLength="37.18" lengthAdjust="spacingAndGlyphs">+ RV798 1:1</text>
<rect x="462.8" y="326.7" width="17.6" height="3.7" fill="#000000" stroke="#000" stroke-width="1.1"/>
<text x="483.7" y="331.0" font-size="7.6" font-weight="normal" text-anchor="start" fill="#000" textLength="19.48" lengthAdjust="spacingAndGlyphs">+ DYS</text>
<rect x="462.8" y="343.0" width="17.6" height="3.7" fill="url(#hp)" stroke="#000" stroke-width="1.1"/>
<text x="483.7" y="347.3" font-size="7.6" font-weight="normal" text-anchor="start" fill="#000" textLength="31.17" lengthAdjust="spacingAndGlyphs">irr. peptide</text>
</svg></body></html>
